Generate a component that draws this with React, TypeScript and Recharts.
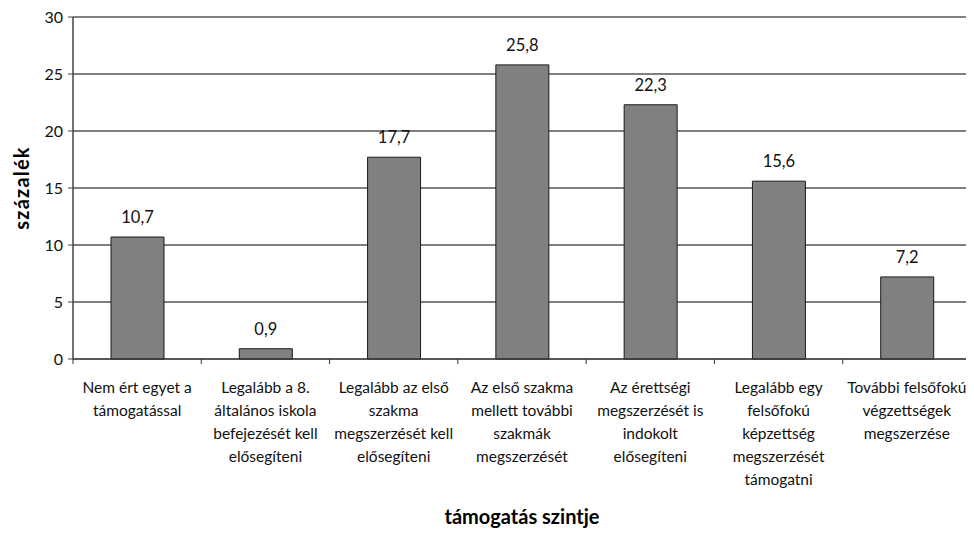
import React from "react";
import { BarChart, Bar, XAxis, YAxis, CartesianGrid, LabelList, Label, ReferenceLine } from "recharts";

const categories = [
  "Nem ért egyet a\ntámogatással",
  "Legalább a 8.\náltalános iskola\nbefejezését kell\nelősegíteni",
  "Legalább az első\nszakma\nmegszerzését kell\nelősegíteni",
  "Az első szakma\nmellett további\nszakmák\nmegszerzését",
  "Az érettségi\nmegszerzését is\nindokolt\nelősegíteni",
  "Legalább egy\nfelsőfokú\nképzettség\nmegszerzését\ntámogatni",
  "További felsőfokú\nvégzettségek\nmegszerzése",
];
const values = [10.7, 0.9, 17.7, 25.8, 22.3, 15.6, 7.2];
const yTicks = [0, 5, 10, 15, 20, 25, 30];
const yTitle = "százalék";
const xTitle = "támogatás szintje";

const data = categories.map((c, i) => ({ name: c, value: values[i] }));

const FONT = "Lato, 'Open Sans', sans-serif";

const CatTick = (props: any) => {
  const { x, y, payload, index, visibleTicksCount } = props;
  const lines = String(payload.value).split("\n");
  const half = payload.offset || 0;
  const isLast = visibleTicksCount != null ? index === visibleTicksCount - 1 : index === categories.length - 1;
  return (
    <g>
      <line x1={x - half} x2={x - half} y1={y} y2={y + 5} stroke="#333" strokeWidth={1} />
      {isLast && <line x1={x + half} x2={x + half} y1={y} y2={y + 5} stroke="#333" strokeWidth={1} />}
      <text x={x} y={y + 34} textAnchor="middle" fontFamily={FONT} fontSize={15.5} fill="#111">
        {lines.map((l, i) => (
          <tspan key={i} x={x} dy={i === 0 ? 0 : 23}>{l}</tspan>
        ))}
      </text>
    </g>
  );
};

export default function App() {
  return (
    <BarChart
      width={966}
      height={525}
      data={data}
      margin={{ top: 9, right: 3, left: 0, bottom: 173 }}
      style={{ fontFamily: FONT }}
    >
      <CartesianGrid horizontal={true} vertical={false} stroke="#000" strokeWidth={1} />
      <ReferenceLine y={30} stroke="#808080" strokeWidth={2} />
      <XAxis
        dataKey="name"
        height={1}
        interval={0}
        tickSize={0}
        tickMargin={0}
        tickLine={false}
        axisLine={{ stroke: "#333" }}
        tick={<CatTick />}
      >
        <Label
          content={(p: any) => {
            const vb = p.viewBox;
            return (
              <text x={vb.x + vb.width / 2} y={vb.y + 165} textAnchor="middle" fontFamily={FONT} fontWeight="bold" fontSize={20} fill="#000">
                {xTitle}
              </text>
            );
          }}
        />
      </XAxis>
      <YAxis
        width={65}
        domain={[0, 30]}
        ticks={yTicks}
        interval={0}
        tickSize={5}
        tickMargin={5}
        axisLine={{ stroke: "#444", strokeWidth: 1.5 }}
        tickLine={{ stroke: "#444" }}
        tick={{ fontFamily: FONT, fontSize: 16, fill: "#111" }}
      >
        <Label
          content={(p: any) => {
            const vb = p.viewBox;
            const x = vb.x + 21;
            const y = vb.y + vb.height / 2;
            return (
              <text x={x} y={y} transform={`rotate(-90, ${x}, ${y})`} textAnchor="middle" fontFamily={FONT} fontWeight="bold" fontSize={20} letterSpacing={1.2} fill="#000">
                {yTitle}
              </text>
            );
          }}
        />
      </YAxis>
      <Bar dataKey="value" fill="#808080" stroke="#1a1a1a" strokeWidth={1} barSize={53} isAnimationActive={false}>
        <LabelList
          dataKey="value"
          position="top"
          offset={14}
          formatter={(v: any) => String(v).replace(".", ",")}
          style={{ fontFamily: FONT, fontSize: 16.5, fill: "#111" }}
        />
      </Bar>
    </BarChart>
  );
}
